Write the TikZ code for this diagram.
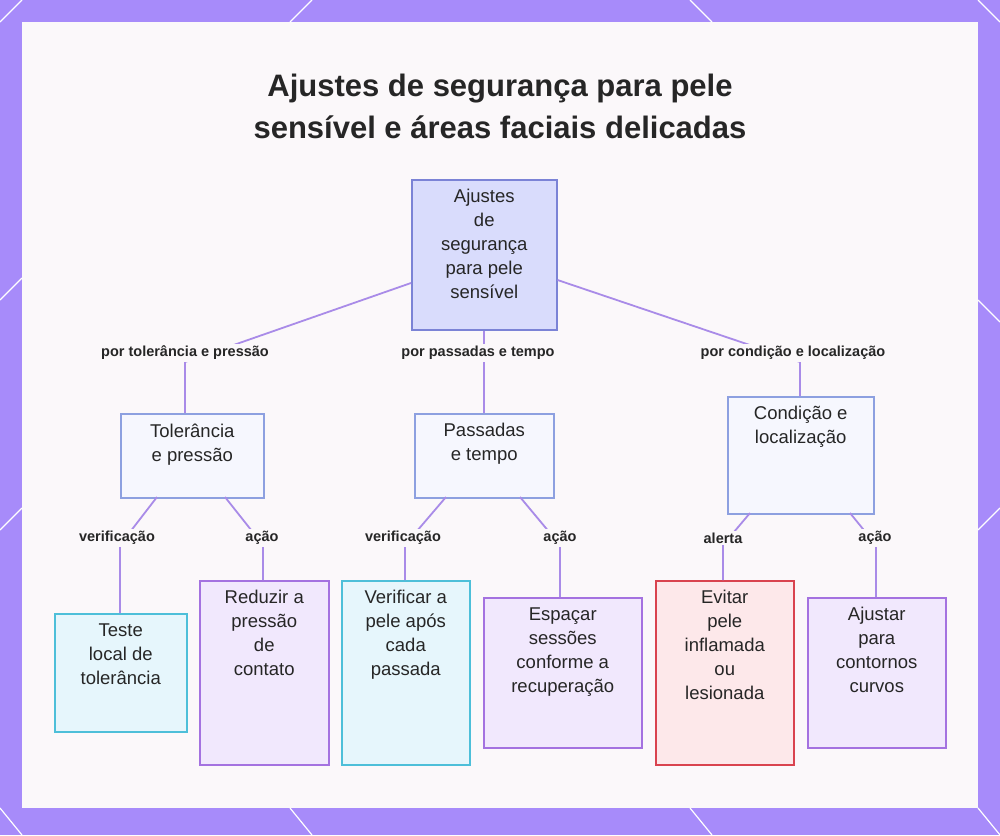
\documentclass[tikz,border=0pt]{standalone}
\usepackage{fontspec}
\setmainfont{Liberation Sans}
\definecolor{bord}{RGB}{167,139,250}
\definecolor{bg}{RGB}{251,248,250}
\definecolor{rootf}{RGB}{217,220,252}\definecolor{rootd}{RGB}{123,131,214}
\definecolor{midf}{RGB}{246,247,254}\definecolor{midd}{RGB}{141,160,224}
\definecolor{cyf}{RGB}{230,246,252}\definecolor{cyd}{RGB}{77,191,217}
\definecolor{puf}{RGB}{241,232,253}\definecolor{pud}{RGB}{164,114,224}
\definecolor{ref}{RGB}{253,232,234}\definecolor{red}{RGB}{217,67,79}
\definecolor{cn}{RGB}{169,139,232}
\begin{document}
\begin{tikzpicture}[x=1pt,y=-1pt,
  box/.style={draw,line width=1.5pt,anchor=north west,inner sep=0pt},
  rootc/.style={box,fill=rootf,draw=rootd},
  mid/.style={box,fill=midf,draw=midd},
  cyanc/.style={box,fill=cyf,draw=cyd},
  purp/.style={box,fill=puf,draw=pud},
  redc/.style={box,fill=ref,draw=red},
  txt/.style={font=\fontsize{18.5}{24}\selectfont,align=center,text=black!85,anchor=north,yshift=-7pt},
  conn/.style={draw=cn,line width=1.8pt},
  lab/.style={font=\bfseries\fontsize{14.5}{16}\selectfont,text=black!85,fill=bg,inner sep=2pt}]
\useasboundingbox (0,0) rectangle (1000,835);
\fill[bord] (0,0) rectangle (1000,835);
\fill[bg] (22,22) rectangle (978,808);
\foreach \a/\b/\c/\d in {0/22/22/0, 0/300/22/278, 290/22/312/0, 978/0/1000/22, 978/300/1000/322, 690/0/712/22, 0/808/22/835, 0/530/22/508, 290/808/312/835, 978/808/1000/835, 978/530/1000/508, 690/808/712/835}
  \draw[white,line width=1.2pt] (\a,\b) -- (\c,\d);
\node[font=\bfseries\fontsize{31}{42}\selectfont,align=center,text=black!85] (title) at (500,106) {Ajustes de segurança para pele\\sensível e áreas faciais delicadas};
\node[rootc,minimum width=145pt,minimum height=150pt] (root) at (411,179) {};
\node[txt] (rt) at (root.north) {Ajustes\\de\\segurança\\para pele\\sensível};
\node[mid,minimum width=143pt,minimum height=84pt] (tol) at (120,413) {};
\node[txt] (tt) at (tol.north) {Tolerância\\e pressão};
\node[mid,minimum width=139pt,minimum height=84pt] (pas) at (414,413) {};
\node[txt] (pt) at (pas.north) {Passadas\\e tempo};
\node[mid,minimum width=146pt,minimum height=117pt] (cond) at (727,396) {};
\node[txt] (ct) at (cond.north) {Condição e\\localização};
\node[cyanc,minimum width=132pt,minimum height=118pt] (teste) at (54,613) {};
\node[txt] (t1) at (teste.north) {Teste\\local de\\tolerância};
\node[purp,minimum width=129pt,minimum height=184pt] (redz) at (199,580) {};
\node[txt] (t2) at (redz.north) {Reduzir a\\pressão\\de\\contato};
\node[cyanc,minimum width=128pt,minimum height=184pt] (ver) at (341,580) {};
\node[txt] (t3) at (ver.north) {Verificar a\\pele após\\cada\\passada};
\node[purp,minimum width=158pt,minimum height=150pt] (esp) at (483,597) {};
\node[txt] (t4) at (esp.north) {Espaçar\\sessões\\conforme a\\recuperação};
\node[redc,minimum width=138pt,minimum height=184pt] (evi) at (655,580) {};
\node[txt] (t5) at (evi.north) {Evitar\\pele\\inflamada\\ou\\lesionada};
\node[purp,minimum width=138pt,minimum height=150pt] (aju) at (807,597) {};
\node[txt] (t6) at (aju.north) {Ajustar\\para\\contornos\\curvos};
\coordinate (k1) at (185,362); \coordinate (k2) at (800,362);
\coordinate (b1) at (120,545); \coordinate (b2) at (263,545);
\coordinate (b3) at (405,545); \coordinate (b4) at (560,545);
\coordinate (b5) at (723,545); \coordinate (b6) at (876,545);
\draw[conn] (root.west|-0,283) -- (k1) -- (k1|-tol.north);
\draw[conn] (root.south) -- (root.south|-pas.north);
\draw[conn] (root.east|-0,280) -- (k2) -- (k2|-cond.north);
\draw[conn] (157,497) -- (b1) -- (b1|-teste.north);
\draw[conn] (225,497) -- (b2) -- (b2|-redz.north);
\draw[conn] (446,497) -- (b3) -- (b3|-ver.north);
\draw[conn] (520,497) -- (b4) -- (b4|-esp.north);
\draw[conn] (750,513) -- (b5) -- (b5|-evi.north);
\draw[conn] (850,513) -- (b6) -- (b6|-aju.north);
\node[lab] (l1) at (185,353) {por tolerância e pressão};
\node[lab] (l2) at (478,353) {por passadas e tempo};
\node[lab] (l3) at (793,353) {por condição e localização};
\node[lab] (l4) at (117,538) {verificação};
\node[lab] (l5) at (262,538) {ação};
\node[lab] (l6) at (403,538) {verificação};
\node[lab] (l7) at (560,538) {ação};
\node[lab] (l8) at (723,538) {alerta};
\node[lab] (l9) at (875,538) {ação};
\end{tikzpicture}
\end{document}
